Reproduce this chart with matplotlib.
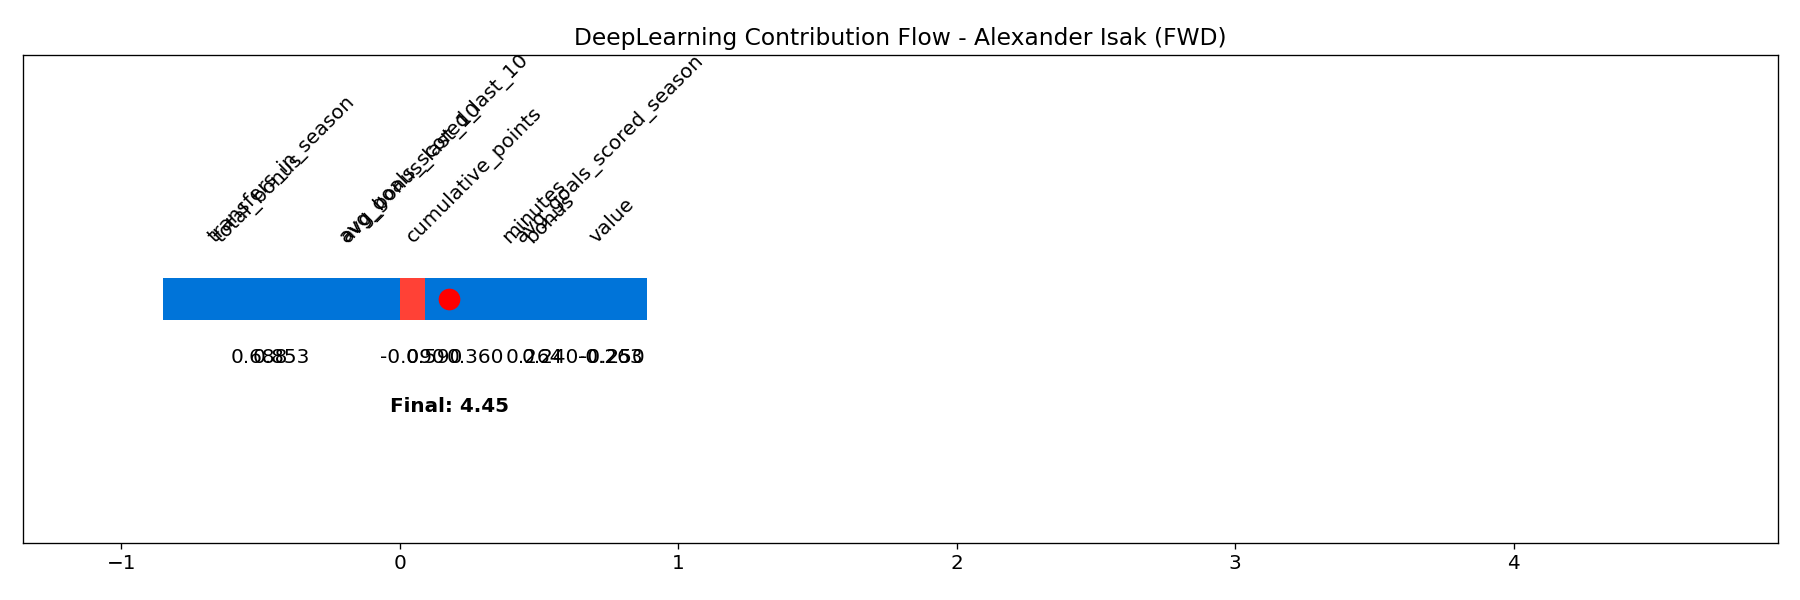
import matplotlib
matplotlib.use("Agg")
import matplotlib.pyplot as plt

features = ["total_bonus", "transfers_in_season", "avg_goals_scored_last_10",
            "avg_bonus_last_10", "cumulative_points", "minutes",
            "avg_goals_scored_season", "bonus", "value"]
starts = [-0.85, -0.85, -0.17, 0.09, 0.09, 0.35, 0.887, 0.42, 0.887]
contribs = [0.688, 0.853, 0.590, -0.090, 0.360, 0.264, -0.263, 0.240, -0.250]
colors = ["#0074D9", "#0074D9", "#0074D9", "#FF4136", "#0074D9",
          "#0074D9", "#0074D9", "#0074D9", "#0074D9"]
marker_x = 0.177
final_value = 4.45
player = "Alexander Isak (FWD)"

fig = plt.figure(figsize=(15, 5), dpi=120)
W, H = 1568, 522
ax = fig.add_axes([20/W, (H-472)/H, 1529/W, 424/H])
order = [0, 1, 2, 4, 5, 6, 7, 8, 3]
for i in order:
    ax.barh(0, contribs[i], left=starts[i], height=0.26, color=colors[i])
for i, f in enumerate(features):
    c = starts[i] + contribs[i] / 2
    ax.text(c, 0.32, f, rotation=45, ha="center", va="bottom", fontsize=12)
    ax.text(c, -0.36, f"{contribs[i]:.3f}", ha="center", va="center", fontsize=12)
ax.plot(marker_x, 0, "o", color="red", markersize=12)
ax.text(marker_x, -0.66, f"Final: {final_value:.2f}", ha="center", va="center",
        fontsize=12, fontweight="bold")
ax.set_xlim(-1.353, 4.95)
ax.set_ylim(-1.5, 1.5)
ax.set_yticks([])
ax.tick_params(axis="x", labelsize=12)
ax.set_title(f"DeepLearning Contribution Flow - {player}", fontsize=14)
fig.savefig("out.png", dpi=120)
